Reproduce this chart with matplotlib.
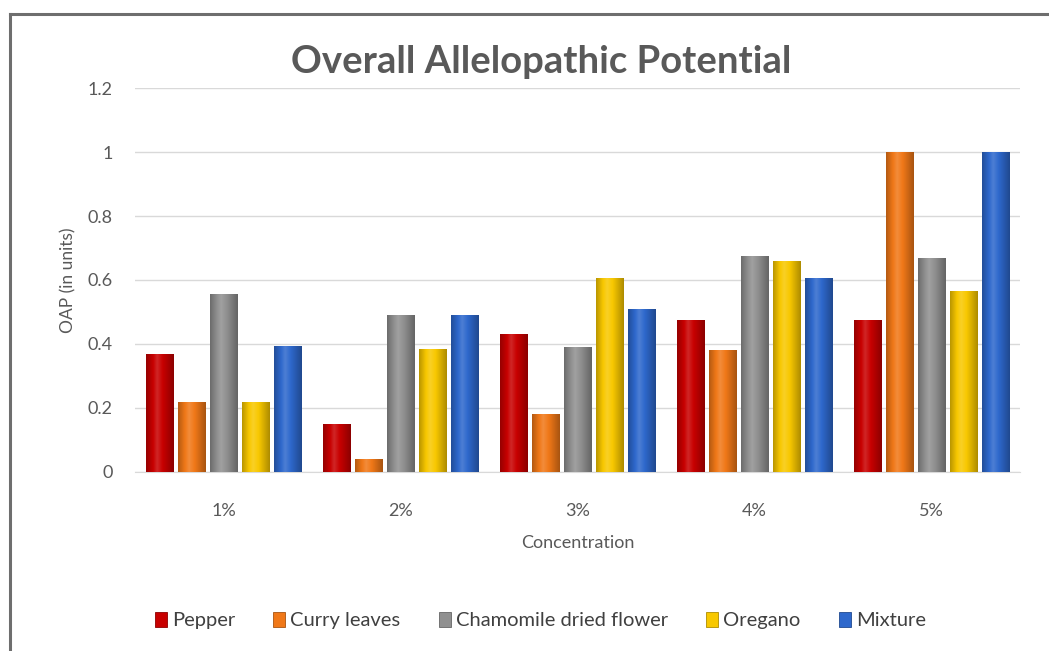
import matplotlib
matplotlib.use("Agg")
import matplotlib.pyplot as plt
import numpy as np
from matplotlib.lines import Line2D
from matplotlib.colors import to_rgb

categories = ["1%", "2%", "3%", "4%", "5%"]
series_names = ["Pepper", "Curry leaves", "Chamomile dried flower", "Oregano", "Mixture"]
pepper = [0.37, 0.15, 0.43, 0.475, 0.475]
curry = [0.22, 0.04, 0.18, 0.38, 1.0]
chamomile = [0.555, 0.49, 0.39, 0.675, 0.67]
oregano = [0.22, 0.385, 0.605, 0.66, 0.565]
mixture = [0.395, 0.49, 0.51, 0.605, 1.0]
yticks = [0, 0.2, 0.4, 0.6, 0.8, 1, 1.2]
ytick_labels = ["0", "0.2", "0.4", "0.6", "0.8", "1", "1.2"]

series = [pepper, curry, chamomile, oregano, mixture]
colors = ["#C80000", "#F07818", "#909090", "#F8C800", "#2E68CC"]

plt.rcParams['font.family'] = ['Lato', 'DejaVu Sans']
fig = plt.figure(figsize=(10.49, 6.51), dpi=100)
ax = fig.add_axes([0.1287, 0.275, 0.8437, 0.5898])

x = np.arange(len(categories))
pitch = 0.181
width = 0.155
txt = "#595959"

def shade(c, f):
    r = np.array(to_rgb(c))
    if f >= 0:
        return r + (1 - r) * f
    return r * (1 + f)

handles = []
for i, (vals, col) in enumerate(zip(series, colors)):
    bars = ax.bar(x + (i - 2) * pitch, vals, width, color=col, edgecolor=shade(col, -0.3),
                  linewidth=0.6, zorder=2, label=series_names[i])
    handles.append(bars)
    t = np.linspace(0, 1, 64)
    prof = np.where(t < 0.4, -0.25 + (t / 0.4) * 0.4, 0.15 - ((t - 0.4) / 0.6) * 0.45)
    grad = np.array([shade(col, p) for p in prof])[None, :, :]
    for b in bars:
        bx, bw, bh = b.get_x(), b.get_width(), b.get_height()
        im = ax.imshow(grad, extent=[bx, bx + bw, 0, bh], aspect='auto', zorder=3,
                       interpolation='bilinear')
        im.set_clip_path(b)

ax.set_xlim(-0.5, len(categories) - 0.5)
ax.set_ylim(0, 1.2)
ax.set_yticks(yticks)
ax.set_yticklabels(ytick_labels)
ax.set_xticks(x)
ax.set_xticklabels(categories)
ax.grid(axis='y', color="#D9D9D9", linewidth=1, zorder=0)
ax.set_axisbelow(True)
for s in ["top", "right", "left"]:
    ax.spines[s].set_visible(False)
ax.spines["bottom"].set_color("#D9D9D9")
ax.tick_params(axis='both', length=0, colors=txt, labelsize=13)
ax.tick_params(axis='x', pad=22)
ax.tick_params(axis='y', pad=16)

ax.set_ylabel("OAP (in units)", color=txt, fontsize=12.5, labelpad=8)
ax.set_xlabel("Concentration", color=txt, fontsize=13, labelpad=12)
fig.text(0.516, 0.905, "Overall Allelopathic Potential", ha='center', va='center',
         fontsize=27.5, fontweight='bold', color=txt)

ax.legend(handles=handles, loc='center', bbox_to_anchor=(0.515, 0.047),
          bbox_transform=fig.transFigure, ncol=5, frameon=False, fontsize=14.5,
          labelcolor="#404040", handlelength=0.6, handleheight=0.8, handletextpad=0.25,
          columnspacing=1.9)

fig.add_artist(Line2D([9.5 / 1049, 9.5 / 1049], [0, 1 - 14 / 651], color="#6E6E6E", linewidth=2.2,
                      transform=fig.transFigure))
fig.add_artist(Line2D([9.5 / 1049, 1], [1 - 14 / 651, 1 - 14 / 651], color="#6E6E6E", linewidth=2.2,
                      transform=fig.transFigure))

fig.savefig("out.png", dpi=100)
